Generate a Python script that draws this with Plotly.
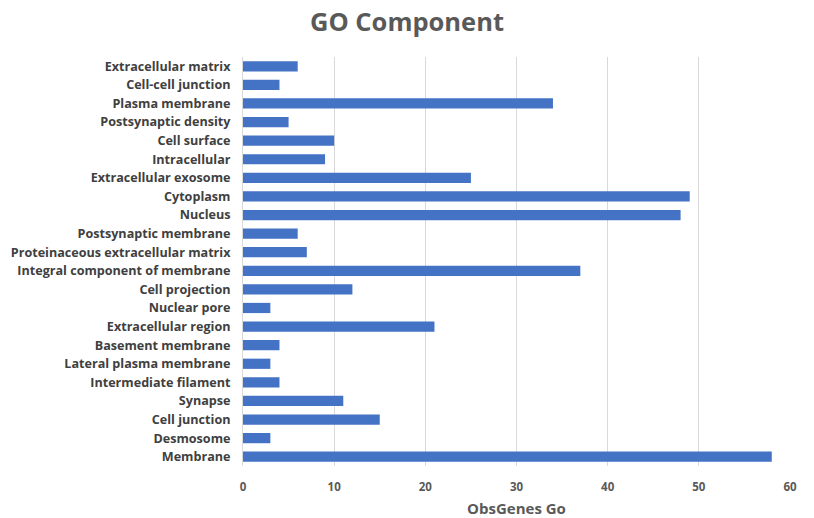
import plotly.graph_objects as go

# GO cellular-component terms, listed top to bottom
categories = [
    "Extracellular matrix", "Cell-cell junction", "Plasma membrane",
    "Postsynaptic density", "Cell surface", "Intracellular",
    "Extracellular exosome", "Cytoplasm", "Nucleus", "Postsynaptic membrane",
    "Proteinaceous extracellular matrix", "Integral component of membrane",
    "Cell projection", "Nuclear pore", "Extracellular region",
    "Basement membrane", "Lateral plasma membrane", "Intermediate filament",
    "Synapse", "Cell junction", "Desmosome", "Membrane",
]
obs_genes = [6, 4, 34, 5, 10, 9, 25, 49, 48, 6, 7, 37, 12, 3, 21, 4, 3, 4, 11, 15, 3, 58]
x_ticks = [0, 10, 20, 30, 40, 50, 60]

FONT = "Open Sans"

fig = go.Figure(
    go.Bar(
        x=obs_genes,
        y=categories,
        orientation="h",
        width=0.55,
        marker=dict(color="#4472C4", line=dict(width=0)),
    )
)

fig.update_layout(
    width=814,
    height=518,
    margin=dict(l=243, r=24, t=57, b=52),
    paper_bgcolor="white",
    plot_bgcolor="white",
    showlegend=False,
    title=dict(
        text="<b>GO Component</b>",
        x=0.5,
        xanchor="center",
        y=0.957,
        yanchor="middle",
        font=dict(family=FONT, size=25.5, color="#595959"),
    ),
    font=dict(family=FONT),
)

fig.update_xaxes(
    range=[0, 60],
    tickvals=x_ticks,
    ticktext=[f"<b>{v}</b>" for v in x_ticks],
    tickfont=dict(family=FONT, size=11.5, color="#595959"),
    showgrid=True,
    gridcolor="#D9D9D9",
    gridwidth=1,
    zeroline=False,
    showline=False,
    ticks="",
    ticklabelstandoff=12,
    automargin=False,
    title=dict(
        text="<b>ObsGenes Go</b>",
        font=dict(family=FONT, size=15, color="#595959"),
        standoff=10,
    ),
)

fig.update_yaxes(
    categoryorder="array",
    categoryarray=categories,
    autorange="reversed",
    tickvals=categories,
    ticktext=[f"<b>{c}</b>" for c in categories],
    tickfont=dict(family=FONT, size=12.6, color="#404040"),
    showgrid=False,
    zeroline=False,
    showline=True,
    linecolor="#D9D9D9",
    ticks="",
    ticklabelstandoff=9,
    automargin=False,
)

fig.write_html("out.html")
